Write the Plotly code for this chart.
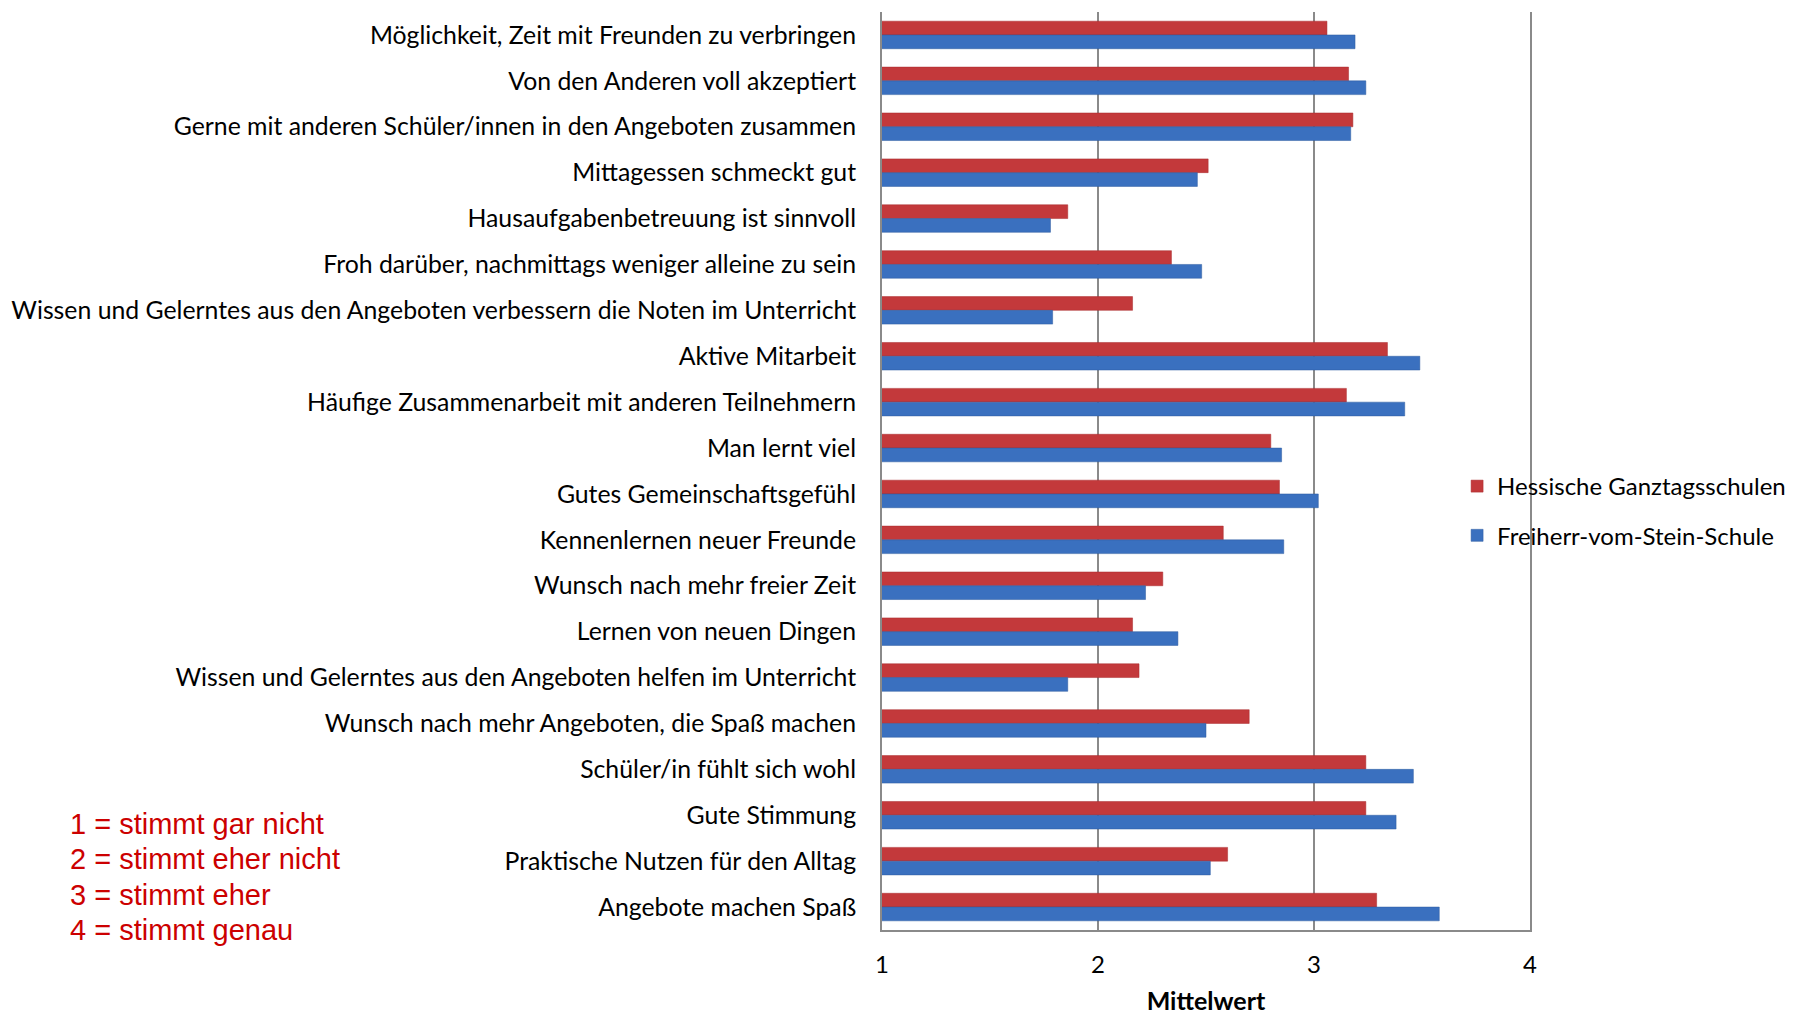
import plotly.graph_objects as go

categories = [
    "Möglichkeit, Zeit mit Freunden zu verbringen",
    "Von den Anderen voll akzeptiert",
    "Gerne mit anderen Schüler/innen in den Angeboten zusammen",
    "Mittagessen schmeckt gut",
    "Hausaufgabenbetreuung ist sinnvoll",
    "Froh darüber, nachmittags weniger alleine zu sein",
    "Wissen und Gelerntes aus den Angeboten verbessern die Noten im Unterricht",
    "Aktive Mitarbeit",
    "Häufige Zusammenarbeit mit anderen Teilnehmern",
    "Man lernt viel",
    "Gutes Gemeinschaftsgefühl",
    "Kennenlernen neuer Freunde",
    "Wunsch nach mehr freier Zeit",
    "Lernen von neuen Dingen",
    "Wissen und Gelerntes aus den Angeboten helfen im Unterricht",
    "Wunsch nach mehr Angeboten, die Spaß machen",
    "Schüler/in fühlt sich wohl",
    "Gute Stimmung",
    "Praktische Nutzen für den Alltag",
    "Angebote machen Spaß",
]

hessen = [3.06, 3.16, 3.18, 2.51, 1.86, 2.34, 2.16, 3.34, 3.15, 2.80,
          2.84, 2.58, 2.30, 2.16, 2.19, 2.70, 3.24, 3.24, 2.60, 3.29]
fvs = [3.19, 3.24, 3.17, 2.46, 1.78, 2.48, 1.79, 3.49, 3.42, 2.85,
       3.02, 2.86, 2.22, 2.37, 1.86, 2.50, 3.46, 3.38, 2.52, 3.58]

x_ticks = [1, 2, 3, 4]
scale_notes = [
    "1 = stimmt gar nicht",
    "2 = stimmt eher nicht",
    "3 = stimmt eher",
    "4 = stimmt genau",
]

label_font = "Lato, 'Open Sans', sans-serif"
axis_grey = "#8A8A8A"

fig = go.Figure()
fig.add_trace(go.Bar(
    y=categories, x=hessen, orientation="h",
    name="Hessische Ganztagsschulen", legendgroup="a",
    marker_color="#C3393B",
    marker_line=dict(color="#A82A2C", width=0.5),
))
fig.add_trace(go.Bar(
    y=categories, x=fvs, orientation="h",
    name="Freiherr-vom-Stein-Schule", legendgroup="b",
    marker_color="#3A70BF",
    marker_line=dict(color="#2C5A9E", width=0.5),
))

# page has an 8px body margin, so the figure is 8px smaller
fig.update_layout(
    width=1797, height=1007,
    margin=dict(l=874, r=275, t=4, b=85),
    plot_bgcolor="white", paper_bgcolor="white",
    barmode="group", bargap=0.4, bargroupgap=0,
    font=dict(family=label_font, color="black", size=25),
    legend=dict(
        x=0.8875, y=0.4564, xanchor="left", yanchor="middle",
        bgcolor="rgba(0,0,0,0)", font=dict(size=24),
        tracegroupgap=15,
    ),
    xaxis=dict(
        range=[1, 4], tickvals=x_ticks, showgrid=True, automargin=False,
        gridcolor=axis_grey, gridwidth=1.5,
        showline=True, linecolor=axis_grey, linewidth=2,
        ticks="outside", ticklen=12, tickcolor="rgba(0,0,0,0)",
        tickfont=dict(size=24), zeroline=False,
        title=dict(text="<b>Mittelwert</b>", font=dict(size=25), standoff=29),
    ),
    yaxis=dict(
        autorange="reversed", showgrid=False, automargin=False,
        showline=True, linecolor=axis_grey, linewidth=2, mirror=True,
        ticks="outside", ticklen=19, tickcolor="rgba(0,0,0,0)",
        tickfont=dict(size=24.8),
    ),
)

for i, note in enumerate(scale_notes):
    fig.add_annotation(
        text=note, xref="paper", yref="paper",
        x=-1.2566, y=0.1153 - i * 0.03845,
        xanchor="left", yanchor="middle", showarrow=False,
        font=dict(family="'Liberation Sans', Arial, sans-serif", size=29, color="#CC0000"),
    )

fig.write_html("out.html")
